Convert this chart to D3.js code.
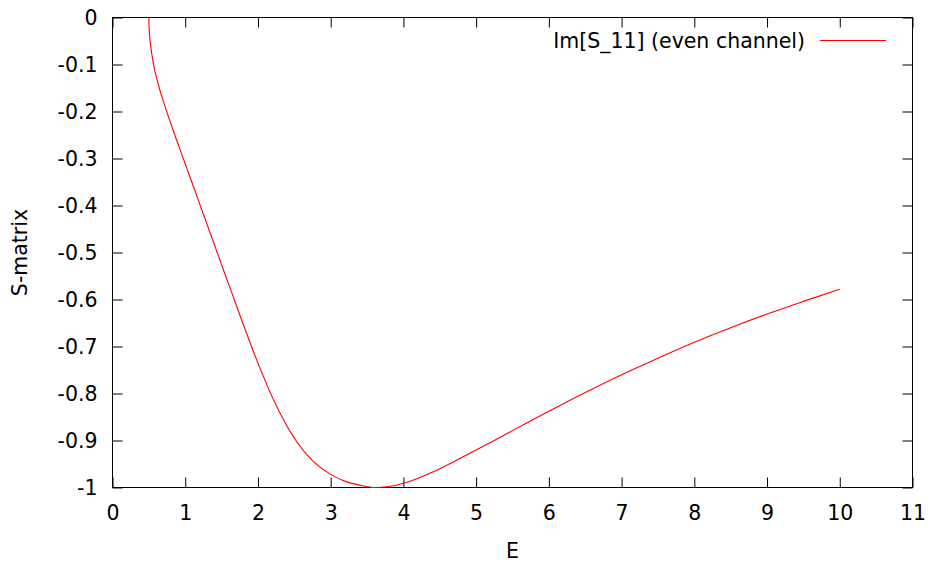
<!DOCTYPE html>
<html>
<head>
<meta charset="utf-8">
<script src="https://cdn.jsdelivr.net/npm/d3@7"></script>
<style>
  html, body { margin: 0; padding: 0; background: #fff; }
  svg { display: block; }
  text { font-family: "DejaVu Sans", sans-serif; fill: #000; }
</style>
</head>
<body>
<svg id="chart" width="932" height="563"></svg>
<script>
// Energy samples and the imaginary part of S_11 (even channel)
const energy = [0.5, 0.502, 0.51, 0.525, 0.55, 0.582, 0.64, 0.696, 0.834, 0.971, 1.109,
  1.246, 1.384, 1.521, 1.659, 1.796, 1.934, 2.07, 2.209, 2.37, 2.531, 2.75, 2.989, 3.2,
  3.4, 3.6, 3.8, 4.0, 4.5, 5.0, 5.5, 6.0, 6.5, 7.0, 7.5, 8.0, 8.5, 9.0, 9.5, 10.0];
const imS11 = [0, -0.015, -0.038, -0.06, -0.087, -0.113, -0.148, -0.177, -0.240, -0.299,
  -0.358, -0.417, -0.476, -0.535, -0.594, -0.652, -0.709, -0.762, -0.812, -0.861, -0.902,
  -0.943, -0.971, -0.987, -0.995, -1.0, -0.998, -0.991, -0.96, -0.92, -0.879, -0.838,
  -0.798, -0.76, -0.725, -0.691, -0.66, -0.631, -0.604, -0.578];

const xTicks = [0, 1, 2, 3, 4, 5, 6, 7, 8, 9, 10, 11];
const yTicks = [0, -0.1, -0.2, -0.3, -0.4, -0.5, -0.6, -0.7, -0.8, -0.9, -1];
const seriesName = "Im[S_11] (even channel)";

const svg = d3.select("#chart");
const plotL = 112.5, plotR = 912.5, plotT = 17.5, plotB = 487.5;
const tickLen = 10;
const fontSize = 20.5;

const x = d3.scaleLinear().domain([0, 11]).range([plotL, plotR]);
const y = d3.scaleLinear().domain([-1, 0]).range([plotB, plotT]);

const fmtY = v => (v === 0 ? "0" : (v === -1 ? "-1" : String(v)));

// Bottom axis: labels outside, ticks pointing inward
const xAxisB = d3.axisBottom(x).tickValues(xTicks).tickSizeInner(-tickLen).tickSizeOuter(0)
  .tickPadding(18).tickFormat(d3.format("d"));
const gxb = svg.append("g").attr("transform", `translate(0,${plotB})`).call(xAxisB);

// Top mirror ticks
const gxt = svg.append("g").attr("transform", `translate(0,${plotT})`)
  .call(d3.axisTop(x).tickValues(xTicks).tickSizeInner(-tickLen).tickSizeOuter(0).tickFormat(""));

// Left axis
const yAxisL = d3.axisLeft(y).tickValues(yTicks).tickSizeInner(-tickLen).tickSizeOuter(0)
  .tickPadding(15).tickFormat(fmtY);
const gyl = svg.append("g").attr("transform", `translate(${plotL},0)`).call(yAxisL);

// Right mirror ticks
const gyr = svg.append("g").attr("transform", `translate(${plotR},0)`)
  .call(d3.axisRight(y).tickValues(yTicks).tickSizeInner(-tickLen).tickSizeOuter(0).tickFormat(""));

[gxb, gxt, gyl, gyr].forEach(g => {
  g.select(".domain").remove();
  g.selectAll(".tick line").attr("stroke", "#000").attr("stroke-width", 1);
  g.selectAll("text").attr("font-size", fontSize).attr("fill", "#000")
    .style("font-family", "'DejaVu Sans', sans-serif");
});

// Plot border
svg.append("rect")
  .attr("x", plotL).attr("y", plotT)
  .attr("width", plotR - plotL).attr("height", plotB - plotT)
  .attr("fill", "none").attr("stroke", "#000").attr("stroke-width", 1);

// Curve
const pts = energy.map((e, i) => [e, imS11[i]]);
const line = d3.line().x(d => x(d[0])).y(d => y(d[1])).curve(d3.curveMonotoneX);
svg.append("path")
  .datum(pts)
  .attr("d", line)
  .attr("fill", "none")
  .attr("stroke", "#ff0000")
  .attr("stroke-width", 1.1);

// Axis titles
svg.append("text")
  .attr("x", (plotL + plotR) / 2).attr("y", 557.5)
  .attr("text-anchor", "middle").attr("font-size", fontSize)
  .text("E");
svg.append("text")
  .attr("transform", `translate(27,${(plotT + plotB) / 2}) rotate(-90)`)
  .attr("text-anchor", "middle").attr("font-size", fontSize)
  .text("S-matrix");

// Legend
svg.append("text")
  .attr("x", 805).attr("y", 48.3)
  .attr("text-anchor", "end").attr("font-size", fontSize)
  .text(seriesName);
svg.append("line")
  .attr("x1", 820).attr("x2", 886).attr("y1", 40.5).attr("y2", 40.5)
  .attr("stroke", "#ff0000").attr("stroke-width", 1.1);
</script>
</body>
</html>
